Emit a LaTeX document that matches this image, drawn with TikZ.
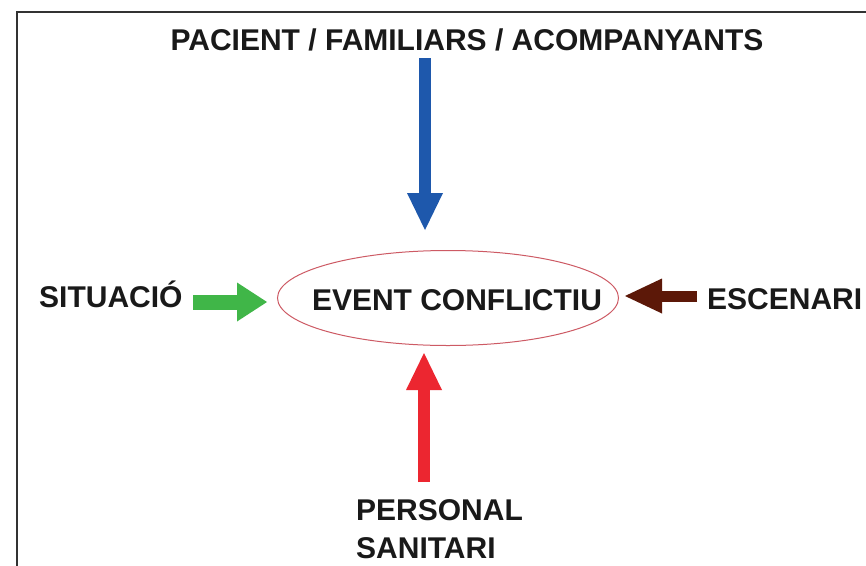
\documentclass[tikz,border=0pt]{standalone}
\usepackage{fontspec}
\setmainfont{Liberation Sans}
\usetikzlibrary{arrows.meta,shapes.geometric}
\definecolor{cblue}{RGB}{30,88,172}
\definecolor{cred}{RGB}{236,38,48}
\definecolor{cgreen}{RGB}{64,182,72}
\definecolor{cbrown}{RGB}{92,24,8}
\definecolor{cell}{RGB}{205,90,100}
\definecolor{cframe}{RGB}{50,50,50}
\tikzset{
  lbl/.style={inner sep=0pt, font=\fontsize{30}{38}\selectfont\bfseries, text=black!90},
  bigarrow/.style={line width=12pt, -{Triangle[width=36pt,length=37pt,line width=0pt]}},
}
\begin{document}
\begin{tikzpicture}[x=1pt,y=-1pt]
\useasboundingbox (0,0) rectangle (866,565);
\fill[white] (0,0) rectangle (866,565);
\draw[cframe, line width=1.8pt] (17,566) -- (17,12) -- (867,12);

\node[lbl, anchor=base] (top) at (467,50) {PACIENT / FAMILIARS / ACOMPANYANTS};
\node[lbl, anchor=base west] (sit) at (39,307) {SITUACIÓ};
\node[lbl, anchor=base west] (esc) at (707,309) {ESCENARI};
\node[lbl, anchor=base west] (pers) at (356,520) {PERSONAL};
\node[lbl, anchor=base west] (san) at (356,558) {SANITARI};

\node[ellipse, draw=cell, line width=1pt, minimum width=341pt, minimum height=95pt, inner sep=0pt] (ev) at (448,298) {};
\node[lbl, anchor=base] (evt) at (457,310) {EVENT CONFLICTIU};

\coordinate (bs) at (425,58);
\coordinate (be) at (425,230);
\coordinate (rs) at (424,482);
\coordinate (re) at (424,353);
\coordinate (gs) at (193,302);
\coordinate (ge) at (267,302);
\coordinate (ws) at (697,296);
\coordinate (we) at (625,296);

\draw[bigarrow, cblue] (bs) -- (be);
\draw[bigarrow, cred] (rs) -- (re);
\draw[cgreen, line width=15pt, -{Triangle[width=39pt,length=30pt,line width=0pt]}] (gs) -- (ge);
\draw[cbrown, line width=11pt, -{Triangle[width=35pt,length=37pt,line width=0pt]}] (ws) -- (we);
\end{tikzpicture}
\end{document}
